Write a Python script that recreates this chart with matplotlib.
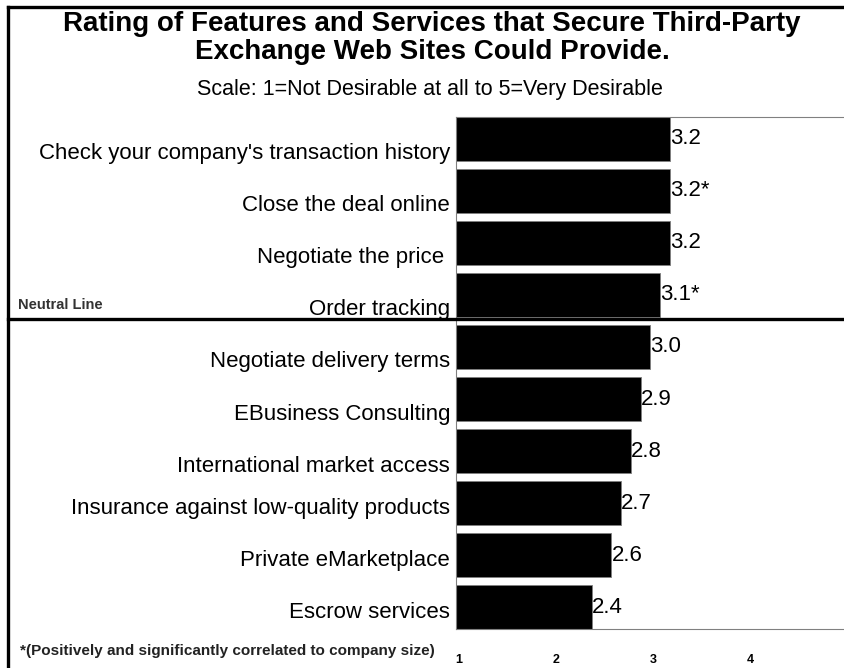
import numpy as np
import matplotlib
matplotlib.use("Agg")
import matplotlib.pyplot as plt
import matplotlib.transforms as mtransforms
from matplotlib.lines import Line2D

plt.rcParams["font.family"] = ["Liberation Sans", "DejaVu Sans"]

# Survey results: mean desirability rating (1-5 scale)
features = [
    "Check your company's transaction history",
    "Close the deal online",
    "Negotiate the price ",
    "Order tracking",
    "Negotiate delivery terms",
    "EBusiness Consulting",
    "International market access",
    "Insurance against low-quality products",
    "Private eMarketplace",
    "Escrow services",
]
ratings = [3.2, 3.2, 3.2, 3.1, 3.0, 2.9, 2.8, 2.7, 2.6, 2.4]
size_correlated = [False, True, False, True, False, False, False, False, False, False]
scale_ticks = [1, 2, 3, 4, 5]

W, H = 845, 668
fig = plt.figure(figsize=(W / 100, H / 100), dpi=100)

# Plot area in pixel terms
ax_left, ax_top, ax_bottom = 455.7, 117, 629
ax = fig.add_axes([ax_left / W, 1 - ax_bottom / H, (W - ax_left) / W, (ax_bottom - ax_top) / H])

n = len(features)
pos = np.arange(n)
bar_h = 0.846
ax.barh(pos, ratings, height=bar_h, color="black", edgecolor="#7f7f7f", linewidth=0.6, zorder=2)
ax.set_xlim(scale_ticks[0], scale_ticks[-1])
ax.set_ylim(n - 1 + bar_h / 2, -bar_h / 2)

# Value labels at the end of each bar
for y, v, star in zip(pos, ratings, size_correlated):
    ax.text(v, y, f"{v:.1f}" + ("*" if star else ""), ha="left", va="center",
            fontsize=16, color="black", zorder=3)

# Category labels
ax.set_yticks(pos)
ax.set_yticklabels(features, fontsize=16)
ax.tick_params(axis="y", length=0, pad=4)
drops = [12.5] * 7 + [2.5] * 3
for lbl, d in zip(ax.get_yticklabels(), drops):
    lbl.set_transform(lbl.get_transform() + mtransforms.ScaledTranslation(0, -d / 100, fig.dpi_scale_trans))

# Scale ticks
ax.set_xticks(scale_ticks)
ax.set_xticklabels([str(t) for t in scale_ticks], fontsize=9, fontweight="bold")
ax.tick_params(axis="x", length=0, pad=18)
for lbl in ax.get_xticklabels():
    lbl.set_transform(lbl.get_transform() + mtransforms.ScaledTranslation(3 / 100, 0, fig.dpi_scale_trans))

for side in ["left", "top", "bottom", "right"]:
    ax.spines[side].set_color("#808080")
    ax.spines[side].set_linewidth(0.8)

# Neutral line separating above/below neutral items
neutral_tr = mtransforms.blended_transform_factory(fig.transFigure, ax.transData)
ax.add_line(Line2D([8 / W, 1.0], [3.46, 3.46], transform=neutral_tr, color="black",
                   linewidth=2.4, clip_on=False, zorder=4))
fig.text(18 / W, 1 - 305 / H, "Neutral Line", fontsize=10.5, fontweight="bold",
         color="#333333", ha="left", va="center")

# Titles
fig.text(432 / W, 1 - 38 / H, "Rating of Features and Services that Secure Third-Party\nExchange Web Sites Could Provide.",
         ha="center", va="center", fontsize=20, fontweight="bold", linespacing=1.12)
fig.text(430 / W, 1 - 89 / H, "Scale: 1=Not Desirable at all to 5=Very Desirable",
         ha="center", va="center", fontsize=15.5)

# Footnote
fig.text(20 / W, 1 - 651 / H, "*(Positively and significantly correlated to company size)",
         ha="left", va="center", fontsize=11, fontweight="bold", color="#222222")

# Outer frame
fig.add_artist(Line2D([8 / W, 8 / W], [0, 1 - 7 / H], transform=fig.transFigure, color="black", linewidth=2.4))
fig.add_artist(Line2D([8 / W, 1.0], [1 - 7 / H, 1 - 7 / H], transform=fig.transFigure, color="black", linewidth=2.4))

fig.savefig("out.png", dpi=100)
